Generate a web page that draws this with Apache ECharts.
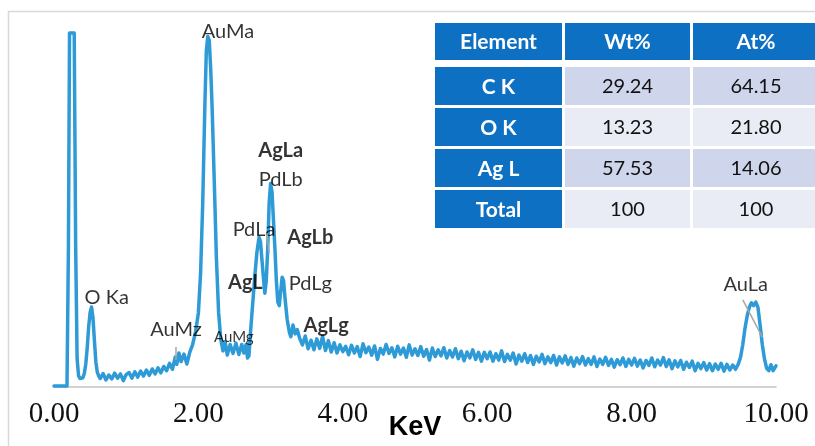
<!DOCTYPE html>
<html>
<head>
<meta charset="utf-8">
<script src="https://cdn.jsdelivr.net/npm/echarts@6/dist/echarts.min.js"></script>
<style>
  html, body { margin: 0; padding: 0; background: #ffffff; }
  #chart { width: 815px; height: 446px; }
</style>
</head>
<body>
<div id="chart"></div>
<script>
// EDS spectrum: [energy (keV), intensity (relative counts)]
const spectrum = [
  [0.00, 0.3], [0.18, 0.3], [0.20, 40], [0.215, 100], [0.28, 100], [0.30, 40], [0.32, 8],
  [0.34, 3.2], [0.36, 2.4], [0.38, 2.8], [0.40, 2.6], [0.42, 3.8], [0.44, 6.5], [0.46, 11],
  [0.48, 17], [0.50, 21], [0.52, 22.6], [0.54, 19.5], [0.56, 13], [0.58, 7], [0.60, 4.2], [0.62, 3.1],
  [0.64, 2.4], [0.68, 3.8], [0.72, 2.0], [0.76, 3.4], [0.80, 2.3], [0.84, 3.9], [0.88, 2.5],
  [0.92, 3.7], [0.96, 1.8], [1.00, 3.5], [1.04, 4.1], [1.08, 2.5], [1.12, 4.3], [1.16, 2.8],
  [1.20, 4.5], [1.24, 3.1], [1.28, 4.8], [1.32, 3.3], [1.36, 5.1], [1.40, 3.7], [1.44, 5.4],
  [1.48, 4.0], [1.52, 5.8], [1.56, 4.6], [1.60, 6.7], [1.64, 5.0], [1.68, 8.5], [1.70, 6.4],
  [1.73, 9.6], [1.76, 7.2], [1.80, 9.3], [1.84, 6.5], [1.88, 9.8], [1.92, 12], [1.96, 15.5],
  [2.00, 21], [2.03, 32], [2.06, 52], [2.09, 80], [2.11, 95], [2.13, 99], [2.15, 98],
  [2.17, 90], [2.19, 79], [2.22, 58], [2.25, 36], [2.28, 21], [2.31, 13.5], [2.34, 10.2],
  [2.37, 12.8], [2.40, 9.0], [2.44, 12.0], [2.48, 9.5], [2.52, 12.4], [2.56, 9.2], [2.60, 12.0],
  [2.63, 9.6], [2.66, 12.0], [2.68, 8.2], [2.70, 8.8], [2.72, 15], [2.75, 23], [2.78, 31],
  [2.81, 38], [2.84, 42.3], [2.86, 41], [2.88, 36], [2.90, 31], [2.92, 26.5], [2.94, 30],
  [2.96, 39], [2.98, 52], [3.00, 57.5], [3.02, 55], [3.04, 47], [3.06, 39], [3.08, 30],
  [3.10, 24], [3.12, 23], [3.14, 27], [3.16, 31], [3.18, 30], [3.20, 25], [3.23, 19],
  [3.26, 15.5], [3.28, 14.2], [3.31, 17.5], [3.34, 15], [3.37, 16.2], [3.40, 13.9], [3.44, 11.9],
  [3.48, 14.4], [3.52, 10.8], [3.56, 13.2], [3.60, 10.5], [3.64, 13.6], [3.68, 10.9], [3.72, 14.3],
  [3.76, 10.3], [3.80, 13.1], [3.84, 9.9], [3.88, 12.5], [3.92, 9.6], [3.96, 11.9], [4.00, 10.0],
  [4.04, 11.5], [4.08, 9.1], [4.12, 11.8], [4.16, 9.6], [4.20, 11.4], [4.24, 8.6], [4.28, 12.2],
  [4.32, 9.7], [4.36, 11.3], [4.40, 9.0], [4.44, 11.6], [4.48, 7.8], [4.52, 10.9], [4.56, 9.3],
  [4.60, 12.0], [4.64, 9.5], [4.68, 11.1], [4.72, 8.5], [4.76, 11.5], [4.80, 9.3], [4.84, 11.0],
  [4.88, 8.4], [4.92, 11.9], [4.96, 9.0], [5.00, 10.8], [5.04, 8.9], [5.08, 11.4], [5.12, 8.7],
  [5.16, 10.6], [5.20, 7.6], [5.24, 11.0], [5.28, 8.6], [5.32, 10.5], [5.36, 8.8], [5.40, 11.1],
  [5.44, 8.2], [5.48, 10.3], [5.52, 8.5], [5.56, 10.8], [5.60, 8.0], [5.64, 10.1], [5.68, 7.4],
  [5.72, 9.9], [5.76, 8.2], [5.80, 10.5], [5.84, 7.8], [5.88, 9.8], [5.92, 7.3], [5.96, 9.8],
  [6.00, 8.0], [6.04, 9.9], [6.08, 7.3], [6.12, 9.4], [6.16, 7.6], [6.20, 10.2], [6.24, 7.2],
  [6.28, 9.2], [6.32, 7.6], [6.36, 9.6], [6.40, 6.5], [6.44, 9.0], [6.48, 7.3], [6.52, 9.4],
  [6.56, 6.9], [6.60, 8.9], [6.64, 6.4], [6.68, 8.7], [6.72, 7.1], [6.76, 9.2], [6.80, 6.6],
  [6.84, 8.5], [6.88, 6.9], [6.92, 8.9], [6.96, 6.2], [7.00, 8.5], [7.04, 6.8], [7.08, 8.8],
  [7.12, 6.4], [7.16, 8.3], [7.20, 5.9], [7.24, 8.2], [7.28, 6.6], [7.32, 8.6], [7.36, 6.2],
  [7.40, 8.0], [7.44, 6.4], [7.48, 8.5], [7.52, 5.8], [7.56, 7.9], [7.60, 6.4], [7.64, 8.4],
  [7.68, 6.1], [7.72, 7.8], [7.76, 5.6], [7.80, 7.7], [7.84, 6.3], [7.88, 8.2], [7.92, 5.8],
  [7.96, 7.8], [8.00, 6.2], [8.04, 8.1], [8.08, 5.9], [8.12, 7.6], [8.16, 5.4], [8.20, 7.5],
  [8.24, 6.1], [8.28, 8.2], [8.32, 5.7], [8.36, 7.6], [8.40, 6.2], [8.44, 8.3], [8.48, 5.8],
  [8.52, 7.7], [8.56, 5.2], [8.60, 7.4], [8.64, 5.7], [8.68, 7.5], [8.72, 5.0], [8.76, 7.0],
  [8.80, 5.5], [8.84, 7.3], [8.88, 4.6], [8.92, 6.7], [8.96, 5.2], [9.00, 6.9], [9.04, 4.8],
  [9.08, 6.6], [9.12, 4.6], [9.16, 6.5], [9.20, 5.0], [9.24, 6.7], [9.28, 4.5], [9.32, 6.4],
  [9.36, 4.8], [9.40, 6.2], [9.44, 5.0], [9.48, 6.6], [9.51, 8.5], [9.54, 12], [9.57, 16.5],
  [9.60, 20], [9.63, 22.5], [9.66, 23.8], [9.69, 23], [9.72, 24], [9.75, 22.5], [9.78, 17.5],
  [9.81, 12], [9.84, 8], [9.87, 5.3], [9.90, 4.6], [9.93, 6.3], [9.96, 4.6], [10.00, 6.0]
];

// Energy axis ticks (keV)
const energyTicks = [0, 2, 4, 6, 8, 10];

// Peak identifications
const peakNames = ['AuMa', 'AgLa', 'PdLb', 'PdLa', 'AgLb', 'AgL', 'PdLg', 'O Ka', 'AuMz', 'AuMg', 'AgLg', 'AuLa'];

// Quantification table
const tableHeader = ['Element', 'Wt%', 'At%'];
const elements = ['C K', 'O K', 'Ag L', 'Total'];
const wtPercent = [29.24, 13.23, 57.53, 100];
const atPercent = [64.15, 21.80, 14.06, 100];

// ---- layout (data-space anchors for the peak labels and their leaders) ----
const labelAnchors = [
  [2.41, 100.3], [3.14, 66.7], [3.14, 58.5], [2.77, 44.4], [3.55, 42.1], [2.65, 29.4],
  [3.55, 29.1], [0.73, 25.4], [1.69, 16.1], [2.49, 14.1], [3.77, 17.5], [9.58, 29.0]
];
const boldLabels = new Set(['AgLa', 'AgLb', 'AgL', 'AgLg']);
const smallLabels = new Set(['AuMg']);
const leaderLines = [
  [[2.95, 43.5], [2.98, 37.9]],
  [[1.68, 11.3], [1.68, 7.6]],
  [[9.54, 24.6], [9.81, 14.1]]
];

const LINE_BLUE = '#2E9BD7';
const TABLE_BLUE = '#0E70C2';
const ROW_DARK = '#CFD5EA';
const ROW_LIGHT = '#E9EBF5';
const LABEL_FONT = 'Lato, "Open Sans", sans-serif';

function fmtPct(v) {
  return Number.isInteger(v) ? String(v) : v.toFixed(2);
}

// ---- table built as graphic elements ----
const tbl = {
  left: 435,
  colW: [127, 125, 126],
  colGap: 3,
  headTop: 23,
  headH: 37,
  bodyTop: 67,
  rowH: 38,
  rowGap: 3
};
const graphics = [];
// outer frame of the chart area
graphics.push({
  type: 'rect',
  shape: { x: 8.5, y: 11.5, width: 900, height: 500 },
  style: { fill: 'none', stroke: '#D9D9D9', lineWidth: 1.5 },
  silent: true
});
function colX(c) {
  let x = tbl.left;
  for (let i = 0; i < c; i++) x += tbl.colW[i] + tbl.colGap;
  return x;
}
function cell(x, y, w, h, fill, text, color, bold) {
  graphics.push({
    type: 'rect',
    shape: { x: x, y: y, width: w, height: h },
    style: { fill: fill },
    silent: true
  });
  graphics.push({
    type: 'text',
    x: x + w / 2,
    y: y + h / 2 + 1,
    style: {
      text: text,
      fill: color,
      font: (bold ? 'bold 21px ' : '20px ') + LABEL_FONT,
      align: 'center',
      verticalAlign: 'middle'
    },
    silent: true
  });
}
tableHeader.forEach((h, c) => {
  cell(colX(c), tbl.headTop, tbl.colW[c], tbl.headH, TABLE_BLUE, h, '#ffffff', true);
});
elements.forEach((el, r) => {
  const y = tbl.bodyTop + r * (tbl.rowH + tbl.rowGap);
  const fill = r % 2 === 0 ? ROW_DARK : ROW_LIGHT;
  cell(colX(0), y, tbl.colW[0], tbl.rowH, TABLE_BLUE, el, '#ffffff', true);
  cell(colX(1), y, tbl.colW[1], tbl.rowH, fill, fmtPct(wtPercent[r]), '#111111', false);
  cell(colX(2), y, tbl.colW[2], tbl.rowH, fill, fmtPct(atPercent[r]), '#111111', false);
});

const labelData = peakNames.map((name, i) => ({
  value: labelAnchors[i],
  name: name,
  label: {
    fontWeight: boldLabels.has(name) ? 'bold' : 'normal',
    fontSize: smallLabels.has(name) ? 15 : 20
  }
}));

const chart = echarts.init(document.getElementById('chart'), null, { renderer: 'canvas' });
chart.setOption({
  animation: false,
  backgroundColor: '#ffffff',
  grid: { left: 54, right: 39, top: 33, bottom: 59, outerBoundsMode: 'none', containLabel: false },
  xAxis: {
    type: 'value',
    min: energyTicks[0],
    max: energyTicks[energyTicks.length - 1],
    interval: energyTicks[1] - energyTicks[0],
    name: 'KeV',
    nameLocation: 'middle',
    nameGap: 27,
    nameMoveOverlap: false,
    nameTextStyle: {
      fontFamily: '"Liberation Sans", Arial, sans-serif',
      fontWeight: 'bold',
      fontSize: 27,
      color: '#000000'
    },
    axisLine: { show: true, lineStyle: { color: '#C4C4C4', width: 1.5 } },
    axisTick: { show: false },
    splitLine: { show: false },
    axisLabel: {
      formatter: v => v.toFixed(2),
      fontFamily: '"Liberation Serif", "Times New Roman", serif',
      fontSize: 29,
      color: '#111111',
      margin: 13
    }
  },
  yAxis: {
    type: 'value',
    min: 0,
    max: 100,
    show: false
  },
  graphic: graphics,
  series: [
    {
      type: 'line',
      data: spectrum,
      showSymbol: false,
      clip: false,
      silent: true,
      lineStyle: { color: LINE_BLUE, width: 3.5, join: 'round', cap: 'round' },
      markLine: {
        silent: true,
        symbol: ['none', 'none'],
        label: { show: false },
        lineStyle: { color: '#A6A6A6', width: 1.5, type: 'solid' },
        data: leaderLines.map(seg => [{ coord: seg[0] }, { coord: seg[1] }])
      },
      z: 2
    },
    {
      type: 'scatter',
      data: labelData,
      symbolSize: 1,
      clip: false,
      silent: true,
      itemStyle: { color: 'transparent' },
      label: {
        show: true,
        position: 'inside',
        formatter: p => p.name,
        fontFamily: LABEL_FONT,
        color: '#000000',
        textBorderWidth: 0
      },
      labelLayout: { hideOverlap: false },
      z: 3
    }
  ]
});
</script>
</body>
</html>
